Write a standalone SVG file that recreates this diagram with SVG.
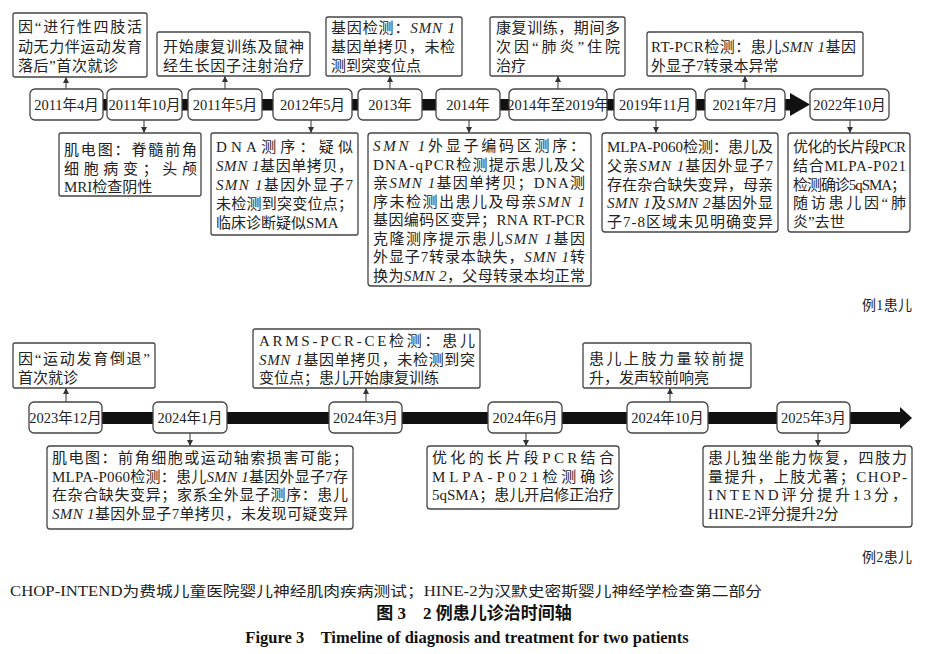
<svg xmlns="http://www.w3.org/2000/svg" width="932" height="654" viewBox="0 0 932 654">
<style>
.bg{fill:#fff}
.box{fill:#fff;stroke:#444;stroke-width:1.3}
.dbox{fill:#fff;stroke:#444;stroke-width:1.3}
.t{font-family:"Liberation Serif","Noto Sans CJK SC",serif;font-size:15px;fill:#222}
.d{font-family:"Liberation Serif","Noto Sans CJK SC",serif;font-size:14.5px;fill:#222;text-anchor:middle}
.i{font-style:italic}
.bar{fill:#111}
.conn{stroke:#333;stroke-width:1;fill:none;marker-end:url(#ah)}
.cap{font-family:"Liberation Serif","Noto Sans CJK SC",serif;font-size:14px;fill:#222}
.capb{font-family:"Liberation Serif","Noto Sans CJK SC",serif;font-weight:bold;fill:#111}
</style>
<defs>
<marker id="ah" viewBox="0 0 6 6" refX="6" refY="3" markerWidth="6" markerHeight="6" markerUnits="userSpaceOnUse" orient="auto">
<path d="M0,0 L6,3 L0,6 Z" fill="#333"/>
</marker>
</defs>
<rect class="bg" x="0" y="0" width="932" height="654"/>

<!-- timeline bars -->
<g id="timeline1">
<rect class="bar" x="60" y="99" width="732" height="11.5"/>
<polygon class="bar" points="790,93 810,104.5 790,116"/>
</g>
<g id="timeline2">
<rect class="bar" x="60" y="412" width="842" height="12"/>
<polygon class="bar" points="900,407 912,418 900,429"/>
</g>

<!-- connectors -->
<g id="connectors">
<line class="conn" x1="66" y1="89" x2="66" y2="77"/>
<line class="conn" x1="225" y1="89" x2="225" y2="76"/>
<line class="conn" x1="390" y1="89" x2="390" y2="76"/>
<line class="conn" x1="558" y1="89" x2="558" y2="76"/>
<line class="conn" x1="745" y1="89" x2="745" y2="76"/>
<line class="conn" x1="144" y1="120" x2="144" y2="133"/>
<line class="conn" x1="311" y1="120" x2="311" y2="133"/>
<line class="conn" x1="469" y1="120" x2="469" y2="133"/>
<line class="conn" x1="656" y1="120" x2="656" y2="133"/>
<line class="conn" x1="850" y1="120" x2="850" y2="133"/>
<line class="conn" x1="66" y1="402" x2="66" y2="388"/>
<line class="conn" x1="366" y1="402" x2="366" y2="388"/>
<line class="conn" x1="670" y1="402" x2="670" y2="388"/>
<line class="conn" x1="190" y1="433" x2="190" y2="446"/>
<line class="conn" x1="526" y1="433" x2="526" y2="446"/>
<line class="conn" x1="818" y1="433" x2="818" y2="446"/>
</g>

<!-- date nodes, case 1 -->
<g id="d1"><rect class="dbox" x="30" y="89" width="73" height="31" rx="5"/><text class="d" x="66.5" y="109.5">2011年4月</text></g>
<g id="d2"><rect class="dbox" x="107" y="89" width="75" height="31" rx="5"/><text class="d" x="144.5" y="109.5">2011年10月</text></g>
<g id="d3"><rect class="dbox" x="188" y="89" width="74" height="31" rx="5"/><text class="d" x="225" y="109.5">2011年5月</text></g>
<g id="d4"><rect class="dbox" x="273" y="89" width="79" height="31" rx="5"/><text class="d" x="312.5" y="109.5">2012年5月</text></g>
<g id="d5"><rect class="dbox" x="358" y="89" width="64" height="31" rx="5"/><text class="d" x="390" y="109.5">2013年</text></g>
<g id="d6"><rect class="dbox" x="436" y="89" width="64" height="31" rx="5"/><text class="d" x="468" y="109.5">2014年</text></g>
<g id="d7"><rect class="dbox" x="509" y="89" width="98" height="31" rx="5"/><text class="d" x="558" y="109.5">2014年至2019年</text></g>
<g id="d8"><rect class="dbox" x="614" y="89" width="82" height="31" rx="5"/><text class="d" x="655" y="109.5">2019年11月</text></g>
<g id="d9"><rect class="dbox" x="705" y="89" width="80" height="31" rx="5"/><text class="d" x="745" y="109.5">2021年7月</text></g>
<g id="d10"><rect class="dbox" x="810" y="89" width="79" height="31" rx="5"/><text class="d" x="849.5" y="109.5">2022年10月</text></g>

<!-- event nodes above, case 1 -->
<g id="e1">
<rect class="box" x="13" y="13" width="134" height="64" rx="2"/>
<text class="t" x="18" y="32" textLength="124" lengthAdjust="spacing">因“进行性四肢活</text>
<text class="t" x="18" y="52" textLength="124" lengthAdjust="spacing">动无力伴运动发育</text>
<text class="t" x="18" y="71" textLength="100" lengthAdjust="spacing">落后”首次就诊</text>
</g>
<g id="e2">
<rect class="box" x="157" y="32" width="153" height="44" rx="2"/>
<text class="t" x="163" y="52" textLength="141" lengthAdjust="spacing">开始康复训练及鼠神</text>
<text class="t" x="163" y="71" textLength="141" lengthAdjust="spacing">经生长因子注射治疗</text>
</g>
<g id="e3">
<rect class="box" x="326" y="17" width="136" height="59" rx="2"/>
<text class="t" x="331" y="33" textLength="124" lengthAdjust="spacing">基因检测：<tspan class="i">SMN 1</tspan></text>
<text class="t" x="331" y="52" textLength="124" lengthAdjust="spacing">基因单拷贝，未检</text>
<text class="t" x="331" y="71">测到突变位点</text>
</g>
<g id="e4">
<rect class="box" x="490" y="17" width="135" height="59" rx="2"/>
<text class="t" x="496" y="33" textLength="124" lengthAdjust="spacing">康复训练，期间多</text>
<text class="t" x="496" y="52" textLength="124" lengthAdjust="spacing">次因“肺炎”住院</text>
<text class="t" x="496" y="71">治疗</text>
</g>
<g id="e5">
<rect class="box" x="647" y="32" width="216" height="44" rx="2"/>
<text class="t" x="651" y="52" textLength="205" lengthAdjust="spacing">RT-PCR检测：患儿<tspan class="i">SMN 1</tspan>基因</text>
<text class="t" x="651" y="71">外显子7转录本异常</text>
</g>

<!-- event nodes below, case 1 -->
<g id="e6">
<rect class="box" x="59" y="133" width="142" height="63" rx="2"/>
<text class="t" x="64" y="155" textLength="133" lengthAdjust="spacing">肌电图：脊髓前角</text>
<text class="t" x="64" y="174" textLength="133" lengthAdjust="spacing">细胞病变；头颅</text>
<text class="t" x="64" y="192">MRI检查阴性</text>
</g>
<g id="e7">
<rect class="box" x="211" y="133" width="147" height="102" rx="2"/>
<text class="t" x="216" y="152" textLength="137" lengthAdjust="spacing">DNA测序：疑似</text>
<text class="t" x="216" y="171" textLength="137" lengthAdjust="spacing"><tspan class="i">SMN 1</tspan>基因单拷贝，</text>
<text class="t" x="216" y="190" textLength="137" lengthAdjust="spacing"><tspan class="i">SMN 1</tspan>基因外显子7</text>
<text class="t" x="216" y="209" textLength="137" lengthAdjust="spacing">未检测到突变位点；</text>
<text class="t" x="216" y="228">临床诊断疑似SMA</text>
</g>
<g id="e8">
<rect class="box" x="368" y="133" width="223" height="153" rx="3"/>
<text class="t" x="373" y="151" textLength="212" lengthAdjust="spacing"><tspan class="i">SMN 1</tspan>外显子编码区测序：</text>
<text class="t" x="373" y="169.5" textLength="212" lengthAdjust="spacing">DNA-qPCR检测提示患儿及父</text>
<text class="t" x="373" y="188" textLength="212" lengthAdjust="spacing">亲<tspan class="i">SMN 1</tspan>基因单拷贝；DNA测</text>
<text class="t" x="373" y="206.5" textLength="212" lengthAdjust="spacing">序未检测出患儿及母亲<tspan class="i">SMN 1</tspan></text>
<text class="t" x="373" y="225" textLength="212" lengthAdjust="spacing">基因编码区变异；RNA RT-PCR</text>
<text class="t" x="373" y="243.5" textLength="212" lengthAdjust="spacing">克隆测序提示患儿<tspan class="i">SMN 1</tspan>基因</text>
<text class="t" x="373" y="262" textLength="212" lengthAdjust="spacing">外显子7转录本缺失，<tspan class="i">SMN 1</tspan>转</text>
<text class="t" x="373" y="280.5" textLength="212" lengthAdjust="spacing">换为<tspan class="i">SMN 2</tspan>，父母转录本均正常</text>
</g>
<g id="e9">
<rect class="box" x="602" y="133" width="176" height="99" rx="3"/>
<text class="t" x="607" y="152" textLength="166" lengthAdjust="spacing">MLPA-P060检测：患儿及</text>
<text class="t" x="607" y="171" textLength="166" lengthAdjust="spacing">父亲<tspan class="i">SMN 1</tspan>基因外显子7</text>
<text class="t" x="607" y="190" textLength="166" lengthAdjust="spacing">存在杂合缺失变异，母亲</text>
<text class="t" x="607" y="208" textLength="166" lengthAdjust="spacing"><tspan class="i">SMN 1</tspan>及<tspan class="i">SMN 2</tspan>基因外显</text>
<text class="t" x="607" y="227" textLength="166" lengthAdjust="spacing">子7-8区域未见明确变异</text>
</g>
<g id="e10">
<rect class="box" x="788" y="133" width="122" height="99" rx="3"/>
<text class="t" x="793" y="152" textLength="113" lengthAdjust="spacing">优化的长片段PCR</text>
<text class="t" x="793" y="171" textLength="113" lengthAdjust="spacing">结合MLPA-P021</text>
<text class="t" x="793" y="190" textLength="113" lengthAdjust="spacing">检测确诊5qSMA；</text>
<text class="t" x="793" y="208" textLength="113" lengthAdjust="spacing">随访患儿因“肺</text>
<text class="t" x="793" y="227">炎”去世</text>
</g>

<text class="cap" x="862" y="310" textLength="50" lengthAdjust="spacing">例1患儿</text>

<!-- date nodes, case 2 -->
<g id="f1"><rect class="dbox" x="29" y="402" width="73" height="31" rx="5"/><text class="d" x="65.5" y="422.5">2023年12月</text></g>
<g id="f2"><rect class="dbox" x="153" y="402" width="74" height="31" rx="5"/><text class="d" x="190" y="422.5">2024年1月</text></g>
<g id="f3"><rect class="dbox" x="329" y="402" width="73" height="31" rx="5"/><text class="d" x="365.5" y="422.5">2024年3月</text></g>
<g id="f4"><rect class="dbox" x="488" y="402" width="74" height="31" rx="5"/><text class="d" x="525" y="422.5">2024年6月</text></g>
<g id="f5"><rect class="dbox" x="627" y="402" width="81" height="31" rx="5"/><text class="d" x="667.5" y="422.5">2024年10月</text></g>
<g id="f6"><rect class="dbox" x="777" y="402" width="73" height="31" rx="5"/><text class="d" x="813.5" y="422.5">2025年3月</text></g>

<!-- event nodes, case 2 -->
<g id="g1">
<rect class="box" x="13" y="343" width="142" height="45" rx="2"/>
<text class="t" x="18" y="364" textLength="132" lengthAdjust="spacing">因“运动发育倒退”</text>
<text class="t" x="18" y="383">首次就诊</text>
</g>
<g id="g2">
<rect class="box" x="253" y="329" width="227" height="59" rx="2"/>
<text class="t" x="259" y="346" textLength="216" lengthAdjust="spacing">ARMS-PCR-CE检测：患儿</text>
<text class="t" x="259" y="365" textLength="216" lengthAdjust="spacing"><tspan class="i">SMN 1</tspan>基因单拷贝，未检测到突</text>
<text class="t" x="259" y="383">变位点；患儿开始康复训练</text>
</g>
<g id="g3">
<rect class="box" x="583" y="343" width="168" height="45" rx="2"/>
<text class="t" x="589" y="364" textLength="155" lengthAdjust="spacing">患儿上肢力量较前提</text>
<text class="t" x="589" y="383">升，发声较前响亮</text>
</g>
<g id="g4">
<rect class="box" x="47" y="446" width="306" height="83" rx="3"/>
<text class="t" x="52" y="463" textLength="296" lengthAdjust="spacing">肌电图：前角细胞或运动轴索损害可能；</text>
<text class="t" x="52" y="481.5" textLength="296" lengthAdjust="spacing">MLPA-P060检测：患儿<tspan class="i">SMN 1</tspan>基因外显子7存</text>
<text class="t" x="52" y="500" textLength="296" lengthAdjust="spacing">在杂合缺失变异；家系全外显子测序：患儿</text>
<text class="t" x="52" y="518.5" textLength="296" lengthAdjust="spacing"><tspan class="i">SMN 1</tspan>基因外显子7单拷贝，未发现可疑变异</text>
</g>
<g id="g5">
<rect class="box" x="427" y="446" width="192" height="63" rx="3"/>
<text class="t" x="432" y="463" textLength="182" lengthAdjust="spacing">优化的长片段PCR结合</text>
<text class="t" x="432" y="481.5" textLength="182" lengthAdjust="spacing">MLPA-P021检测确诊</text>
<text class="t" x="432" y="500" textLength="182" lengthAdjust="spacing">5qSMA；患儿开启修正治疗</text>
</g>
<g id="g6">
<rect class="box" x="703" y="446" width="209" height="81" rx="3"/>
<text class="t" x="708" y="463" textLength="199" lengthAdjust="spacing">患儿独坐能力恢复，四肢力</text>
<text class="t" x="708" y="481.5" textLength="199" lengthAdjust="spacing">量提升，上肢尤著；CHOP-</text>
<text class="t" x="708" y="500" textLength="199" lengthAdjust="spacing">INTEND评分提升13分，</text>
<text class="t" x="708" y="518.5">HINE-2评分提升2分</text>
</g>

<text class="cap" x="862" y="562" textLength="50" lengthAdjust="spacing">例2患儿</text>

<text class="cap" x="10" y="596" textLength="752" lengthAdjust="spacingAndGlyphs">CHOP-INTEND为费城儿童医院婴儿神经肌肉疾病测试；HINE-2为汉默史密斯婴儿神经学检查第二部分</text>
<text class="capb" x="474" y="619" text-anchor="middle" font-size="17">图 3　2 例患儿诊治时间轴</text>
<text class="capb" x="467" y="643" text-anchor="middle" font-size="16.5">Figure 3　Timeline of diagnosis and treatment for two patients</text>
</svg>
